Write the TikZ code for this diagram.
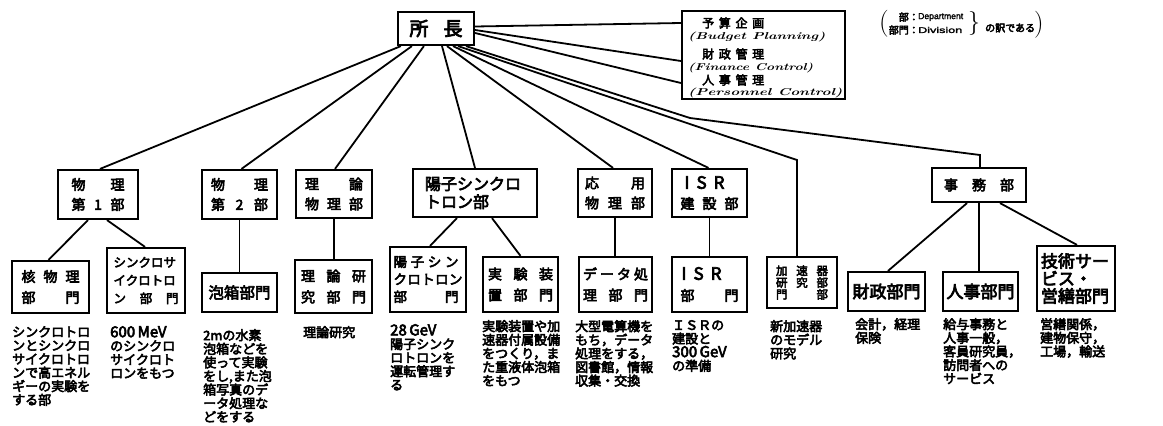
\documentclass[tikz,border=0pt]{standalone}
\usepackage{fontspec}
\usepackage{graphicx}
\newfontfamily\jpb{Noto Sans CJK JP}[FakeBold=4]
\newfontfamily\lsans{Liberation Sans}[FakeBold=2]
\newcommand\sprd[2]{\makebox[#1][s]{#2}}
\newcommand\bx[7][]{\node[box,#1,minimum width={#5-#3},minimum height={#6-#4}] (#2) at ({(#3+#5)/2},{(#4+#6)/2}) {#7};}
\tikzset{
  box/.style={draw,line width=2.2pt,inner sep=0pt,align=center,fill=white},
  fnt/.style 2 args={font=\jpb\fontsize{#1}{#2}\selectfont},
  conn/.style={line width=1.8pt},
  desc/.style={anchor=north west,inner sep=0pt,align=left,font=\jpb\fontsize{13}{13.6}\selectfont},
  plain/.style={inner sep=0pt},
}
\begin{document}
\begin{tikzpicture}[x=1pt,y=-1pt]
\fill[white] (0,0) rectangle (1163,426);
\useasboundingbox (0,0) rectangle (1163,426);

\coordinate (k1) at (797,160);
\coordinate (k2) at (690,118);
\coordinate (k3) at (980,155);

% top
\bx[fnt={19}{19}]{boss}{398}{12}{474}{45}{\sprd{53pt}{所\hfill 長}}
\bx{tr}{682}{11}{845}{99}{}

% level 1
\bx[fnt={14}{20}]{b1}{58}{170}{138}{219}{\sprd{53pt}{物\hfill 理}\\\sprd{53pt}{第\hfill 1\hfill 部}}
\bx[fnt={14}{20}]{b2}{202}{170}{277}{219}{\sprd{57pt}{物\hfill 理}\\\sprd{57pt}{第\hfill 2\hfill 部}}
\bx[fnt={14}{20}]{b3}{296}{170}{372}{218}{\sprd{58pt}{理\hfill 論}\\\sprd{58pt}{物\hfill 理\hfill 部}}
\bx[fnt={16}{18}]{b4}{413}{169}{537}{217}{\makebox[100pt][l]{陽子シンクロ}\\\makebox[100pt][l]{トロン部}}
\bx[fnt={14}{20}]{b5}{578}{169}{652}{217}{\sprd{60pt}{応\hfill 用}\\\sprd{60pt}{物\hfill 理\hfill 部}}
\bx[fnt={14}{20}]{b6}{672}{169}{747}{217}{\makebox[58pt][l]{\hspace{4pt}\sprd{40pt}{\fontsize{17}{17}\selectfont I\hfill S\hfill R}}\\\sprd{58pt}{建\hfill 設\hfill 部}}
\bx[fnt={14}{20}]{b7}{932}{168}{1026}{202}{\sprd{70pt}{事\hfill 務\hfill 部}}

% level 2
\bx[fnt={14}{21}]{c1}{12}{261}{89}{313}{\sprd{58pt}{核\hfill 物\hfill 理}\\\sprd{58pt}{部\hfill 門}}
\bx[fnt={12.5}{18}]{c2}{107}{248}{185}{313}{\makebox[65pt][l]{シンクロサ}\\\makebox[65pt][l]{イクロトロ}\\\sprd{65pt}{ン\hfill 部\hfill 門}}
\bx[fnt={15.5}{16}]{c3}{202}{273}{277}{312}{泡箱部門}
\bx[fnt={14}{21}]{c4}{295}{260}{372}{313}{\sprd{65pt}{理\hfill 論\hfill 研}\\\sprd{65pt}{究\hfill 部\hfill 門}}
\bx[fnt={13.5}{17.5}]{c5}{390}{247}{466}{312}{\makebox[69pt][l]{\sprd{65pt}{陽\hfill 子\hfill シ\hfill ン}}\\\sprd{69pt}{ク\hfill ロ\hfill ト\hfill ロ\hfill ン}\\\makebox[69pt][l]{\sprd{65pt}{部\hfill 門}}}
\bx[fnt={14}{21}]{c6}{483}{257}{558}{312}{\sprd{65pt}{実\hfill 験\hfill 装}\\\sprd{65pt}{置\hfill 部\hfill 門}}
\bx[fnt={14}{21}]{c7}{579}{257}{652}{312}{\sprd{65pt}{デ\hfill ー\hfill タ\hfill 処}\\\sprd{65pt}{理\hfill 部\hfill 門}}
\bx[fnt={14}{21}]{c8}{672}{257}{747}{312}{\makebox[58pt][l]{\hspace{1pt}\sprd{40pt}{\fontsize{17}{17}\selectfont I\hfill S\hfill R}}\\\sprd{58pt}{部\hfill 門}}
\bx[fnt={11.5}{11.8}]{c9}{767}{257}{837}{308}{\sprd{52pt}{加\hfill 速\hfill 器}\\\sprd{52pt}{研\hfill 究\hfill 部}\\\sprd{52pt}{門\hfill 部}}
\bx[fnt={17}{17}]{c10}{848}{272}{925}{311}{財政部門}
\bx[fnt={17}{17}]{c11}{943}{272}{1018}{311}{人事部門}
\bx[fnt={17}{17.5}]{c12}{1037}{246}{1115}{311}{\makebox[70pt][l]{技術サー}\\\makebox[70pt][l]{ビス・}\\\makebox[70pt][l]{営繕部門}}

% connectors
\draw[conn] ([xshift=4]boss.south west) -- ([xshift=2]b1.north);
\draw[conn] ([xshift=15]boss.south west) -- ([xshift=2]b2.north);
\draw[conn] ([xshift=27]boss.south west) -- ([xshift=1]b3.north);
\draw[conn] ([xshift=6]boss.south) -- (b4.north);
\draw[conn] ([xshift=11]boss.south) -- ([xshift=-2]b5.north);
\draw[conn] ([xshift=17]boss.south) -- ([xshift=-1]b6.north);
\draw[conn] ([xshift=22]boss.south) -- (k1) -- (k1 |- c9.north);
\draw[conn] ([xshift=30]boss.south) -- (k2) -- (k3) -- (k3 |- b7.north);
\draw[conn] ([yshift=2]boss.east) -- ([yshift=32]tr.west);
\draw[conn] ([yshift=-1.5]boss.east) -- ([yshift=-6]tr.west);
\draw[conn] ([yshift=-4.5]boss.east) -- ([yshift=-28]tr.west);
\draw[conn] ([xshift=-10]b1.south) -- ([xshift=-2]c1.north);
\draw[conn] ([xshift=9]b1.south) -- ([xshift=-1]c2.north);
\draw[conn] (b2.south) -- (b2.south |- c3.north);
\draw[conn] (b3.south) -- (b3.south |- c4.north);
\draw[conn] ([xshift=-18]b4.south) -- ([xshift=2]c5.north);
\draw[conn] ([xshift=17]b4.south) -- (c6.north);
\draw[conn] (b5.south) -- (b5.south |- c7.north);
\draw[conn] (b6.south) -- (b6.south |- c8.north);
\draw[conn] ([xshift=-12]b7.south) -- ([xshift=1.5]c10.north);
\draw[conn] (b7.south) -- (b7.south |- c11.north);
\draw[conn] ([xshift=21]b7.south) -- ([xshift=1]c12.north);

% top-right box text
\node[plain,anchor=west,font=\jpb\fontsize{12}{12}\selectfont] (trj1) at (702,23) {\sprd{62pt}{予\hfill 算\hfill 企\hfill 画}};
\node[plain,anchor=west] (tre1) at (688,37) {\resizebox{137pt}{7.5pt}{\bfseries\itshape (Budget Planning)}};
\node[plain,anchor=west,font=\jpb\fontsize{12}{12}\selectfont] (trj2) at (702,54) {\sprd{62pt}{財\hfill 政\hfill 管\hfill 理}};
\node[plain,anchor=west] (tre2) at (688,67.5) {\resizebox{125pt}{7.5pt}{\bfseries\itshape (Finance Control)}};
\node[plain,anchor=west,font=\jpb\fontsize{12}{12}\selectfont] (trj3) at (702,80) {\sprd{62pt}{人\hfill 事\hfill 管\hfill 理}};
\node[plain,anchor=west] (tre3) at (688,93) {\resizebox{154pt}{7.5pt}{\bfseries\itshape (Personnel Control)}};

% descriptions
\node[desc] (d1) at (12,326) {シンクロトロ\\ンとシンクロ\\サイクロトロ\\ンで高エネル\\ギーの実験を\\する部};
\node[desc] (d2) at (110,326) {{\fontsize{15}{13.6}\selectfont 600\,MeV}\\のシンクロ\\サイクロト\\ロンをもつ};
\node[desc] (d3) at (203,329) {2mの水素\\泡箱などを\\使って実験\\をし,また泡\\箱写真のデ\\ータ処理な\\どをする};
\node[desc] (d4) at (303,326) {理論研究};
\node[desc] (d5) at (390,324) {{\fontsize{15}{13.6}\selectfont 28\,GeV}\\陽子シンク\\ロトロンを\\運転管理す\\る};
\node[desc] (d6) at (482,320) {実験装置や加\\速器付属設備\\をつくり，ま\\た重液体泡箱\\をもつ};
\node[desc] (d7) at (575,320) {大型電算機を\\もち，データ\\処理をする，\\図書館，情報\\収集・交換};
\node[desc] (d8) at (672,320) {ＩＳＲの\\建設と\\{\fontsize{15}{13.6}\selectfont 300\,GeV}\\の準備};
\node[desc] (d9) at (770,320) {新加速器\\のモデル\\研究};
\node[desc] (d10) at (855,318) {会計，経理\\保険};
\node[desc] (d11) at (943,318) {給与事務と\\人事一般，\\客員研究員，\\訪問者への\\サービス};
\node[desc] (d12) at (1040,318) {営繕関係，\\建物保守，\\工場，輸送};

% legend
\node[plain,font=\fontsize{27}{27}\selectfont] (lp1) at (884,24) {(};
\node[plain,anchor=east,font=\jpb\fontsize{10}{10}\selectfont] (lg1) at (919,17) {部：};
\node[plain,anchor=east,font=\jpb\fontsize{10}{10}\selectfont] (lg2) at (919,30) {部門：};
\node[plain,anchor=west] (lg3) at (918,17) {\resizebox{45pt}{6pt}{\lsans Department}};
\node[plain,anchor=west] (lg4) at (918,30) {\resizebox{44pt}{6pt}{\lsans Division}};
\node[plain,font=\fontsize{24}{24}\selectfont] (lbr) at (974,23) {\}};
\node[plain,anchor=west,font=\jpb\fontsize{10}{10}\selectfont] (lg5) at (985,28) {の訳である};
\node[plain,font=\fontsize{27}{27}\selectfont] (lp2) at (1039,25) {)};
\end{tikzpicture}
\end{document}
